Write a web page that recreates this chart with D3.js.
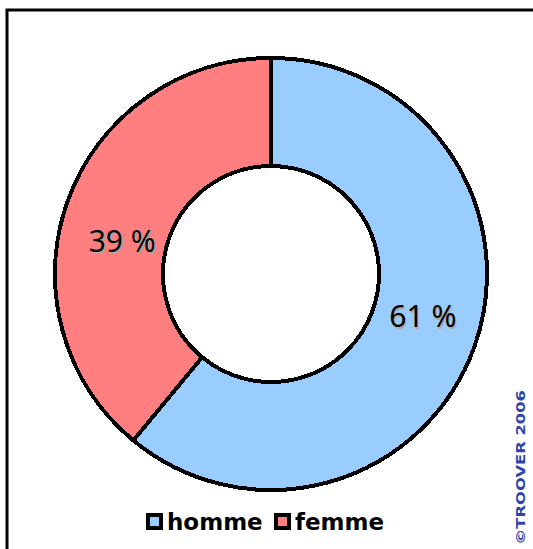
<!DOCTYPE html>
<html>
<head>
<meta charset="utf-8">
<script src="https://cdn.jsdelivr.net/npm/d3@7"></script>
<style>
  body { margin: 0; background: #fff; }
  svg { display: block; }
</style>
</head>
<body>
<div id="chart"></div>
<script>
const categories = ["homme", "femme"];
const values = [61, 39];
const colors = ["#99ccff", "#ff7f80"];
const credit = "©TROOVER 2006";

const width = 533, height = 549;
const cx = 271, cy = 274;
const outerR = 216, innerR = 108;

const svg = d3.select("#chart")
  .append("svg")
  .attr("width", width)
  .attr("height", height);

// frame (right and bottom edges fall outside the picture)
svg.append("rect")
  .attr("x", 7).attr("y", 10)
  .attr("width", 540).attr("height", 560)
  .attr("fill", "none")
  .attr("stroke", "#000")
  .attr("stroke-width", 3);

const data = categories.map((c, i) => ({ name: c, value: values[i], color: colors[i] }));

const pie = d3.pie().value(d => d.value).sort(null);
const arc = d3.arc().innerRadius(innerR).outerRadius(outerR);

const g = svg.append("g").attr("transform", `translate(${cx},${cy})`);

const arcs = pie(data);

g.selectAll("path")
  .data(arcs)
  .enter().append("path")
  .attr("d", arc)
  .attr("fill", d => d.data.color)
  .attr("stroke", "#000")
  .attr("stroke-width", 4)
  .attr("stroke-linejoin", "miter")
  .style("shape-rendering", "crispEdges");

// percentage labels
const labelArc = d3.arc().innerRadius(150).outerRadius(160);
const labelDx = [6, -3];
const labelDy = [-11, 19];

const labels = g.selectAll(".lbl")
  .data(arcs)
  .enter().append("g")
  .attr("class", "lbl")
  .attr("transform", (d, i) => {
    const c = labelArc.centroid(d);
    return `translate(${c[0] + labelDx[i]},${c[1] + labelDy[i]})`;
  });

labels.append("text")
  .attr("x", 1.5).attr("y", 1.5)
  .attr("text-anchor", "middle")
  .attr("dominant-baseline", "central")
  .style("font-family", "'Noto Sans', sans-serif")
  .style("font-size", "30px")
  .attr("fill", "#aaa")
  .text(d => `${d.data.value} %`);

labels.append("text")
  .attr("text-anchor", "middle")
  .attr("dominant-baseline", "central")
  .style("font-family", "'Noto Sans', sans-serif")
  .style("font-size", "30px")
  .attr("fill", "#000")
  .text(d => `${d.data.value} %`);

// legend
const legend = svg.append("g").attr("transform", "translate(146,513)");
const legendX = [0, 128];

const items = legend.selectAll(".item")
  .data(data)
  .enter().append("g")
  .attr("class", "item")
  .attr("transform", (d, i) => `translate(${legendX[i]},0)`);

items.append("rect")
  .attr("x", 2).attr("y", 2)
  .attr("width", 13).attr("height", 13)
  .attr("fill", d => d.color)
  .attr("stroke", "#000")
  .attr("stroke-width", 4);

items.append("text")
  .attr("x", 21).attr("y", 17)
  .style("font-family", "'DejaVu Sans', sans-serif")
  .style("font-weight", "bold")
  .style("font-size", "23px")
  .attr("fill", "#000")
  .text(d => d.name);

// credit, rotated
svg.append("text")
  .attr("transform", "translate(525,545) rotate(-90)")
  .style("font-family", "'Liberation Sans Narrow', 'DejaVu Sans Condensed', sans-serif")
  .style("font-weight", "bold")
  .style("font-size", "13px")
  .attr("fill", "#2f44a8")
  .attr("textLength", 155)
  .attr("lengthAdjust", "spacingAndGlyphs")
  .text(credit);
</script>
</body>
</html>
